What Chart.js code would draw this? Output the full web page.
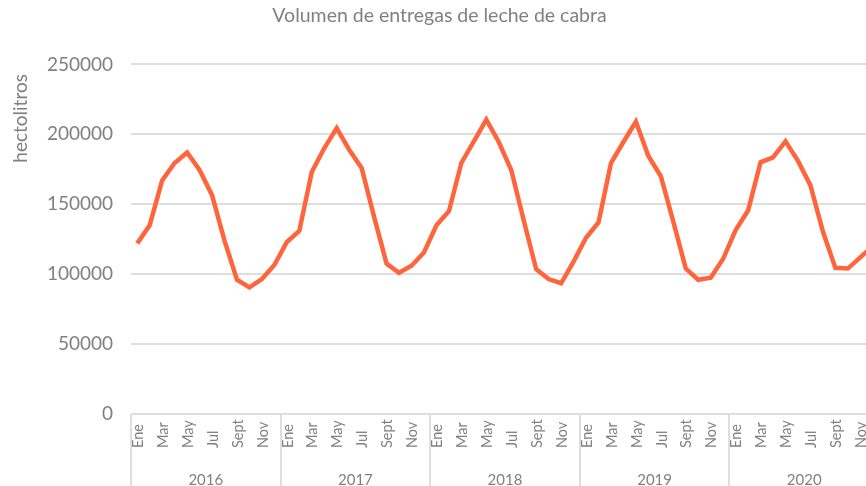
<!DOCTYPE html>
<html>
<head>
<meta charset="utf-8">
<script src="https://cdn.jsdelivr.net/npm/chart.js@4.4.0/dist/chart.umd.min.js"></script>
<style>
    html, body { margin: 0; padding: 0; background: #fff; overflow: hidden; }
    #wrap { width: 879px; height: 486px; position: relative; }
</style>
</head>
<body>
<div id="wrap"><canvas id="goatMilkChart"></canvas></div>
<script>
// Datos (hectolitros por mes)
const years = ['2016', '2017', '2018', '2019', '2020'];
const months = ['Ene', 'Feb', 'Mar', 'Abr', 'May', 'Jun', 'Jul', 'Ago', 'Sept', 'Oct', 'Nov', 'Dic'];
const yTicks = [0, 50000, 100000, 150000, 200000, 250000];

const vol2016 = [122000, 135000, 167000, 179500, 187000, 174500, 156500, 124000, 96000, 90500, 96500, 106500];
const vol2017 = [123000, 131000, 173000, 190000, 204500, 189000, 176000, 141000, 107500, 101000, 106000, 115500];
const vol2018 = [135000, 145000, 179500, 195000, 210500, 194500, 174500, 138500, 103500, 96500, 93500, 109000];
const vol2019 = [126000, 137000, 179500, 194500, 209000, 184500, 170000, 137500, 104000, 96000, 97500, 111000];
const vol2020 = [131500, 145500, 180000, 183500, 195000, 181000, 163500, 130500, 104500, 104000, 112000, 120000];

const labels = years.flatMap(() => months);
const values = [...vol2016, ...vol2017, ...vol2018, ...vol2019, ...vol2020];

const TEXT_COLOR = '#808080';
const GRID_COLOR = '#dedede';
const FONT = 'Lato';

// Etiquetas del eje X (meses rotados + años) y título del eje Y
const axisLabels = {
    id: 'axisLabels',
    afterDraw(chart) {
        const { ctx, chartArea } = chart;
        const xs = chart.scales.x;
        ctx.save();
        ctx.fillStyle = TEXT_COLOR;

        // meses, uno sí y uno no
        ctx.font = `14.5px ${FONT}`;
        ctx.textAlign = 'left';
        ctx.textBaseline = 'middle';
        labels.forEach((lab, i) => {
            if (i % 2) return;
            const px = xs.getPixelForValue(i) + 1;
            ctx.save();
            ctx.translate(px, chartArea.bottom + 34);
            ctx.rotate(-Math.PI / 2);
            ctx.fillText(lab, 0, 0);
            ctx.restore();
        });

        // años
        ctx.font = `15px ${FONT}`;
        ctx.textAlign = 'center';
        years.forEach((yr, k) => {
            const a = xs.getPixelForValue(k * 12);
            const b = xs.getPixelForValue(k * 12 + 11);
            ctx.fillText(yr, (a + b) / 2, chartArea.bottom + 66);
        });

        // título eje Y
        ctx.font = `19px ${FONT}`;
        ctx.save();
        ctx.translate(21, chartArea.top + 54);
        ctx.rotate(-Math.PI / 2);
        ctx.fillText('hectolitros', 0, 0);
        ctx.restore();

        ctx.restore();
    }
};

const ctx = document.getElementById('goatMilkChart').getContext('2d');
new Chart(ctx, {
    type: 'line',
    data: {
        labels,
        datasets: [{
            label: 'Volumen',
            data: values,
            borderColor: '#ff653d',
            borderWidth: 4.5,
            pointRadius: 0,
            tension: 0,
            fill: false,
        }],
    },
    options: {
        responsive: true,
        maintainAspectRatio: false,
        animation: false,
        devicePixelRatio: 1,
        layout: { padding: 0 },
        plugins: {
            legend: { display: false },
            tooltip: { enabled: false },
            title: {
                display: true,
                text: 'Volumen de entregas de leche de cabra',
                color: TEXT_COLOR,
                font: { family: FONT, size: 19.5, weight: 'normal' },
                padding: { top: 4, bottom: 37 },
            },
        },
        scales: {
            x: {
                offset: true,
                border: { display: false },
                ticks: { display: false },
                grid: {
                    offset: true,
                    drawOnChartArea: false,
                    drawTicks: true,
                    tickLength: 72,
                    lineWidth: 2,
                    color: c => (c.index % 12 === 0 ? GRID_COLOR : 'rgba(0,0,0,0)'),
                },
                afterFit: s => { s.height = 72; },
            },
            y: {
                min: yTicks[0],
                max: yTicks[yTicks.length - 1],
                afterBuildTicks: s => { s.ticks = yTicks.map(v => ({ value: v })); },
                border: { display: false },
                ticks: {
                    color: TEXT_COLOR,
                    font: { family: FONT, size: 19 },
                    padding: 18,
                    callback: v => String(v),
                },
                grid: { color: GRID_COLOR, lineWidth: 2, drawTicks: false },
                afterFit: s => { s.width = 131; },
            },
        },
    },
    plugins: [axisLabels],
});
</script>
</body>
</html>
